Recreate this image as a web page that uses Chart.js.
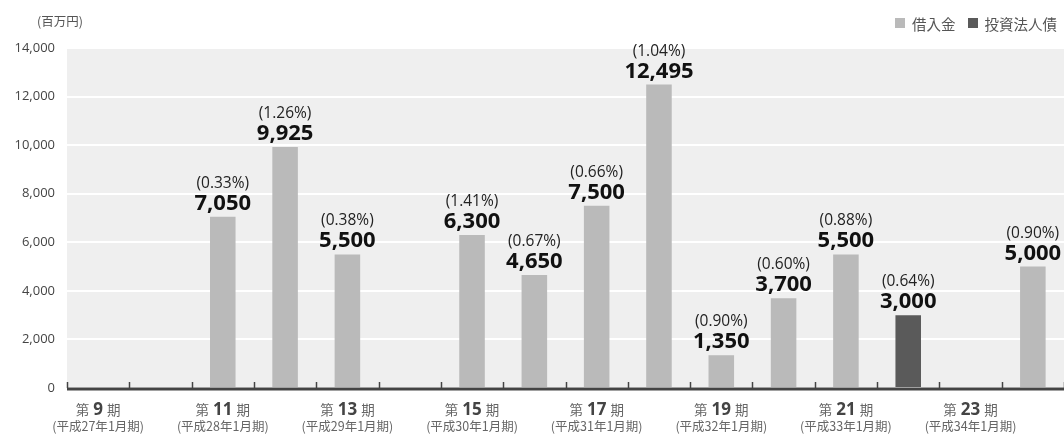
<!DOCTYPE html>
<html lang="ja">
<head>
<meta charset="utf-8">
<script src="https://cdn.jsdelivr.net/npm/chart.js@4.4.1/dist/chart.umd.min.js"></script>
<style>
  body { margin: 0; background: #fff; font-family: 'Open Sans', 'Noto Sans CJK JP', sans-serif; }
  .wrap { position: relative; width: 1064px; height: 435px; }
  .unit { position: absolute; left: 37px; top: 11px; font-size: 12.5px; color: #555; font-family: 'Noto Sans CJK JP', sans-serif; }
  .legend { position: absolute; right: 7px; top: 10px; font-size: 14.5px; color: #555; font-family: 'Noto Sans CJK JP', sans-serif; }
  .legend span { display: inline-block; vertical-align: middle; }
  .legend .sw { width: 10px; height: 10px; margin-right: 7px; }
  .legend .gap { width: 12px; }
</style>
</head>
<body>
<div class="wrap">
  <canvas id="mychart" width="1064" height="435"></canvas>
  <div class="unit">(百万円)</div>
  <div class="legend">
    <span class="sw" style="background:#bababa"></span><span>借入金</span><span class="gap"></span><span class="sw" style="background:#5a5a5a"></span><span>投資法人債</span>
  </div>
</div>
<script>
const periods = [9, 10, 11, 12, 13, 14, 15, 16, 17, 18, 19, 20, 21, 22, 23, 24];
const eraLabels = ['(平成27年1月期)', '', '(平成28年1月期)', '', '(平成29年1月期)', '', '(平成30年1月期)', '',
  '(平成31年1月期)', '', '(平成32年1月期)', '', '(平成33年1月期)', '', '(平成34年1月期)', ''];
const loans = [null, null, 7050, 9925, 5500, null, 6300, 4650, 7500, 12495, 1350, 3700, 5500, null, null, 5000];
const bonds = [null, null, null, null, null, null, null, null, null, null, null, null, null, 3000, null, null];
const rates = [null, null, 0.33, 1.26, 0.38, null, 1.41, 0.67, 0.66, 1.04, 0.90, 0.60, 0.88, 0.64, null, 0.90];
const yTicks = [0, 2000, 4000, 6000, 8000, 10000, 12000, 14000];

const latin = "'Open Sans', 'Noto Sans CJK JP', sans-serif";
const cjk = "'Noto Sans CJK JP', sans-serif";

const plotBg = {
    id: 'plotBg',
    beforeDraw(chart) {
        const { ctx, chartArea: a } = chart;
        ctx.save();
        ctx.fillStyle = '#efefef';
        ctx.fillRect(a.left, a.top, a.right - a.left, a.bottom - a.top);
        ctx.restore();
    }
};

const decorations = {
    id: 'decorations',
    afterDraw(chart) {
        const { ctx, chartArea: a } = chart;
        const xs = chart.scales.x;
        const w = (a.right - a.left) / periods.length;
        ctx.save();
        // baseline + ticks
        ctx.strokeStyle = '#444';
        ctx.lineWidth = 3;
        ctx.beginPath();
        ctx.moveTo(a.left, a.bottom + 1);
        ctx.lineTo(a.right, a.bottom + 1);
        ctx.stroke();
        ctx.lineWidth = 1.5;
        for (let i = 0; i <= periods.length; i++) {
            const x = Math.round(a.left + i * w) + 0.5;
            ctx.beginPath();
            ctx.moveTo(x, a.bottom - 6);
            ctx.lineTo(x, a.bottom);
            ctx.stroke();
        }
        // x labels
        ctx.textBaseline = 'alphabetic';
        periods.forEach((p, i) => {
            if (!eraLabels[i]) return;
            const cx = xs.getPixelForValue(i);
            const parts = [
                { t: '第', f: '13.5px ' + cjk, c: '#666' },
                { t: String(p), f: 'bold 17px ' + latin, c: '#444' },
                { t: '期', f: '13.5px ' + cjk, c: '#666' }
            ];
            const gap = 4;
            let total = 0;
            parts.forEach(pt => { ctx.font = pt.f; pt.w = ctx.measureText(pt.t).width; total += pt.w; });
            total += gap * 2;
            let x = cx - total / 2;
            ctx.textAlign = 'left';
            parts.forEach(pt => {
                ctx.font = pt.f;
                ctx.fillStyle = pt.c;
                ctx.fillText(pt.t, x, 415);
                x += pt.w + gap;
            });
            ctx.font = '12.5px ' + cjk;
            ctx.fillStyle = '#666';
            ctx.textAlign = 'center';
            ctx.fillText(eraLabels[i], cx, 431);
        });
        // value labels
        chart.data.datasets.forEach((ds, di) => {
            const meta = chart.getDatasetMeta(di);
            meta.data.forEach((bar, i) => {
                const v = ds.data[i];
                if (v == null) return;
                ctx.textAlign = 'center';
                ctx.fillStyle = '#111';
                ctx.font = 'bold 22px ' + latin;
                ctx.fillText(v.toLocaleString('en-US'), bar.x, bar.y - 7);
                ctx.fillStyle = '#222';
                ctx.font = '15.5px ' + latin;
                ctx.fillText('(' + rates[i].toFixed(2) + '%)', bar.x, bar.y - 29);
            });
        });
        ctx.restore();
    }
};

const ctx = document.getElementById('mychart').getContext('2d');
let myChart = new Chart(ctx, {
    type: 'bar',
    data: {
        labels: periods.map(p => '第' + p + '期'),
        datasets: [
            { label: '借入金', data: loans, backgroundColor: '#bababa' },
            { label: '投資法人債', data: bonds, backgroundColor: '#5a5a5a' }
        ]
    },
    options: {
        responsive: false,
        animation: false,
        layout: { padding: { top: 48, right: 0, left: 0, bottom: 0 } },
        datasets: { bar: { categoryPercentage: 1, barPercentage: 0.41 } },
        plugins: { legend: { display: false }, tooltip: { enabled: false } },
        scales: {
            x: {
                stacked: true,
                grid: { display: false },
                border: { display: false },
                ticks: { display: false },
                afterFit: s => { s.height = 47; }
            },
            y: {
                stacked: true,
                min: 0,
                max: 14000,
                afterBuildTicks: s => { s.ticks = yTicks.map(v => ({ value: v })); },
                ticks: {
                    padding: 12,
                    color: '#444',
                    font: { size: 13, family: latin },
                    callback: v => v.toLocaleString('en-US')
                },
                grid: { color: '#ffffff', lineWidth: 2, drawTicks: false },
                border: { display: false },
                afterFit: s => { s.width = 67; }
            }
        }
    },
    plugins: [plotBg, decorations]
});
</script>
</body>
</html>
